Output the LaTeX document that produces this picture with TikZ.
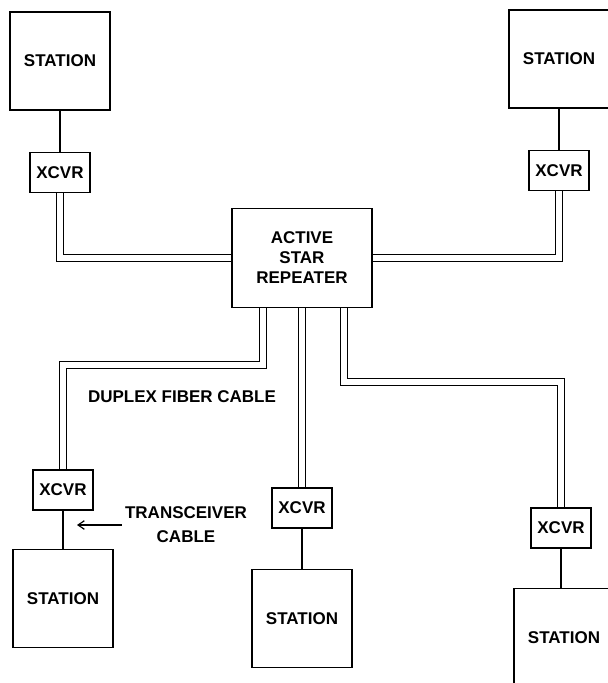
\documentclass[tikz,border=0pt]{standalone}
\usepackage{fontspec}
\setmainfont{Liberation Sans}
\usetikzlibrary{arrows.meta,positioning}

\begin{document}
\begin{tikzpicture}[
  x=1pt, y=-1pt,
  font=\fontsize{17}{20}\selectfont\bfseries,
  station/.style={
    draw=black,
    line width=1.5pt,
    align=center,
    minimum width=100pt,
    minimum height=98pt,
    inner sep=0pt
  },
  xcvr/.style={
    draw=black,
    line width=1.5pt,
    minimum width=60pt,
    minimum height=40pt,
    inner sep=0pt
  },
  repeater/.style={
    draw=black,
    line width=1.7pt,
    align=center,
    minimum width=140pt,
    minimum height=99pt,
    inner sep=0pt
  },
  link/.style={line width=1.5pt},
  cable/.style={double, double distance=5.6pt, line width=1.5pt},
  arrow/.style={-{Straight Barb[length=2.2mm,width=3mm]}, line width=1.2pt}
]

\useasboundingbox (0,0) rectangle (608,683);
\clip (0,0) rectangle (608,683);

\node[repeater] (rep) at (302,258) {ACTIVE\\STAR\\REPEATER};

\node[station] (st1) at (60,61) {STATION};
\node[xcvr, below=41pt of st1] (xc1) {XCVR};

\node[station] (st2) at (559,59) {STATION};
\node[xcvr, below=41pt of st2] (xc2) {XCVR};

\node[xcvr] (xc3) at (63,490) {XCVR};
\node[station, below=38pt of xc3] (st3) {STATION};

\node[xcvr] (xc4) at (302,508) {XCVR};
\node[station, below=40pt of xc4] (st4) {STATION};

\node[xcvr] (xc5) at (561,528) {XCVR};
\node[station, below=39pt of xc5, xshift=3pt] (st5) {STATION};

\coordinate (bendl) at (263,365);
\coordinate (bendr) at (344,382);

\draw[link] (st1) -- (xc1);
\draw[link] (st2) -- (xc2);
\draw[link] (xc3) -- (st3);
\draw[link] (xc4) -- (st4);
\draw[link] (xc5.south) -- (xc5.south |- st5.north);

\draw[cable] (xc1.south) |- (rep.west);
\draw[cable] (xc2.south) |- (rep.east);
\draw[cable] ([xshift=-39pt]rep.south) -- (bendl) -| (xc3.north);
\draw[cable] (rep.south) -- (xc4.north);
\draw[cable] ([xshift=42pt]rep.south) -- (bendr) -| (xc5.north);

\node (duplex) at (182,397) {DUPLEX FIBER CABLE};
\node[align=center, inner sep=3pt, font=\fontsize{17}{24}\selectfont\bfseries] (trans) at (186,525) {TRANSCEIVER\\CABLE};
\coordinate (cabletip) at (77,525);
\draw[arrow] (trans.west) -- (cabletip);

\end{tikzpicture}
\end{document}
